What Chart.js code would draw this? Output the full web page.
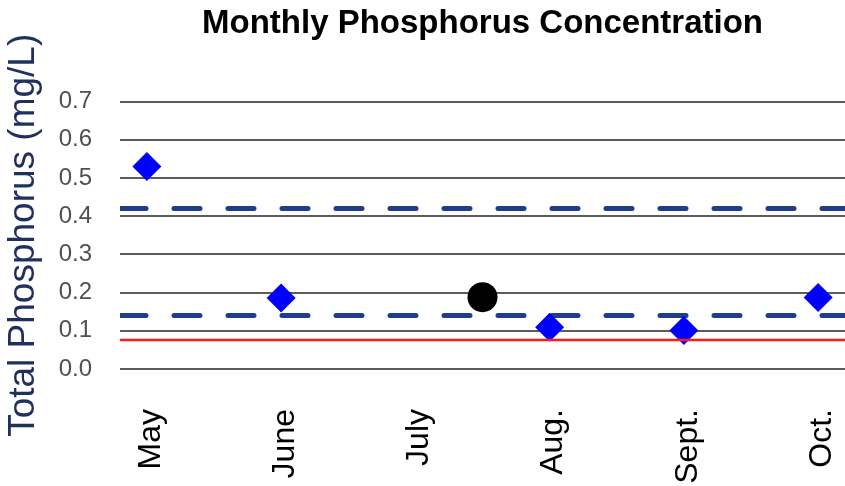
<!DOCTYPE html>
<html>
<head>
<meta charset="utf-8">
<script src="https://cdn.jsdelivr.net/npm/chart.js@4/dist/chart.umd.min.js"></script>
<style>
  html, body { margin: 0; padding: 0; background: #fff; }
  canvas { display: block; }
</style>
</head>
<body>
<canvas id="chart" width="845" height="486"></canvas>
<script>
// x positions are month indexes (0 = May)
const months = ["May", "June", "July", "Aug.", "Sept.", "Oct."];
const diamondMonths = [0, 1, 3, 4, 5];
const diamondValues = [0.53, 0.186, 0.109, 0.101, 0.187];
const circleMonths = [2.5];
const circleValues = [0.188];
const upperLimit = 0.42;
const lowerLimit = 0.14;
const redLimit = 0.076;
const xMin = -0.2, xMax = 5.2;

const font = "'Liberation Sans', Arial, sans-serif";

function hLine(v) {
  return [{ x: xMin, y: v }, { x: xMax, y: v }];
}

const ctx = document.getElementById("chart").getContext("2d");

new Chart(ctx, {
  type: "scatter",
  data: {
    datasets: [
      {
        data: hLine(upperLimit), showLine: true, pointRadius: 0,
        borderColor: "#203d8a", borderWidth: 5, borderDash: [26, 28],
        borderCapStyle: "round", order: 3
      },
      {
        data: hLine(lowerLimit), showLine: true, pointRadius: 0,
        borderColor: "#203d8a", borderWidth: 5, borderDash: [26, 28],
        borderCapStyle: "round", order: 3
      },
      {
        data: diamondMonths.map((m, i) => ({ x: m, y: diamondValues[i] })),
        pointStyle: "rectRot", pointRadius: 14.5, borderWidth: 0,
        backgroundColor: "#0000ff", borderColor: "#0000ff", order: 2
      },
      {
        data: circleMonths.map((m, i) => ({ x: m, y: circleValues[i] })),
        pointStyle: "circle", pointRadius: 15, borderWidth: 0,
        backgroundColor: "#000", borderColor: "#000", order: 2
      },
      {
        data: hLine(redLimit), showLine: true, pointRadius: 0,
        borderColor: "#ff1a1a", borderWidth: 2.5, order: 1
      }
    ]
  },
  options: {
    responsive: false,
    animation: false,
    layout: { padding: 0, autoPadding: false },
    plugins: {
      legend: { display: false },
      tooltip: { enabled: false },
      title: {
        display: true,
        fullSize: false,
        text: "Monthly Phosphorus Concentration",
        color: "#000",
        font: { family: font, size: 33, weight: "bold" },
        padding: { top: 4, bottom: 58 }
      }
    },
    scales: {
      x: {
        type: "linear",
        min: xMin,
        max: xMax,
        grid: { display: false, drawTicks: false },
        border: { display: false },
        afterBuildTicks: (s) => { s.ticks = months.map((m, i) => ({ value: i })); },
        afterFit: (s) => { s.height = 117; s.paddingLeft = 0; s.paddingRight = 0; },
        ticks: {
          autoSkip: false,
          minRotation: 90,
          maxRotation: 90,
          padding: 40,
          labelOffset: 4,
          color: "#000",
          font: { family: font, size: 32 },
          callback: (v) => months[v]
        }
      },
      y: {
        min: 0,
        max: 0.7,
        grid: { color: "#5c5c5c", lineWidth: 2, drawTicks: false },
        border: { display: false },
        afterFit: (s) => { s.width = 120; },
        title: {
          display: true,
          text: "Total Phosphorus (mg/L)",
          color: "#1f2f5e",
          font: { family: font, size: 37 },
          padding: { top: 2, bottom: 0 }
        },
        ticks: {
          stepSize: 0.1,
          padding: 28,
          color: "#505050",
          font: { family: font, size: 24 },
          callback: (v) => v.toFixed(1)
        }
      }
    }
  }
});
</script>
</body>
</html>
